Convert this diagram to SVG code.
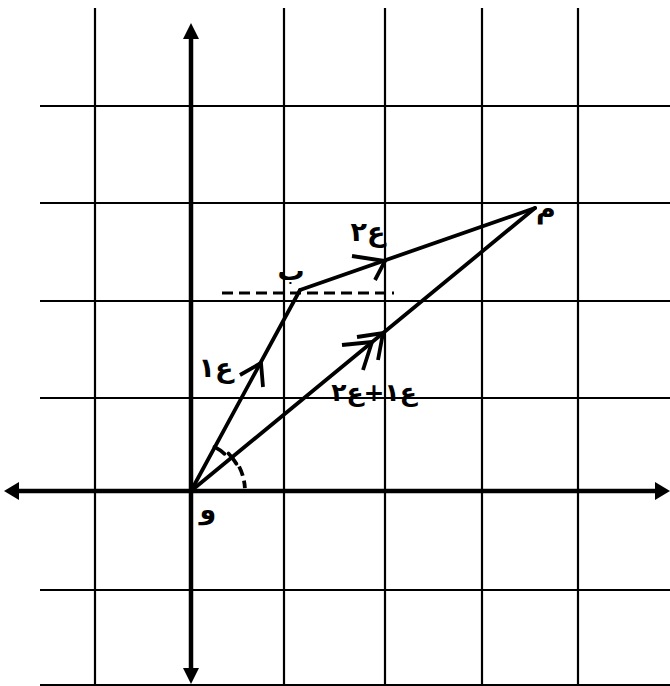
<svg xmlns="http://www.w3.org/2000/svg" width="670" height="686" viewBox="0 0 670 686">
<style>
.grid{stroke:#000;stroke-width:2.2;fill:none}
.axis{stroke:#000;stroke-width:4.5;fill:none}
.vec{stroke:#000;stroke-width:3.8;fill:none;stroke-linecap:round;stroke-linejoin:round}
.chev{stroke:#000;stroke-width:3.8;fill:none;stroke-linecap:butt}
.dash{stroke:#000;stroke-width:3.2;fill:none;stroke-dasharray:11 6}
.lbl{font-family:"DejaVu Sans",sans-serif;font-weight:bold;font-size:27px;fill:#000;text-anchor:middle}
</style>
<rect width="670" height="686" fill="#fff"/>
<g id="grid">
<line class="grid" x1="95" y1="8" x2="95" y2="686"/>
<line class="grid" x1="284" y1="8" x2="284" y2="686"/>
<line class="grid" x1="385" y1="8" x2="385" y2="686"/>
<line class="grid" x1="482" y1="8" x2="482" y2="686"/>
<line class="grid" x1="578" y1="8" x2="578" y2="686"/>
<line class="grid" x1="40" y1="106" x2="670" y2="106"/>
<line class="grid" x1="40" y1="203" x2="670" y2="203"/>
<line class="grid" x1="40" y1="301" x2="670" y2="301"/>
<line class="grid" x1="40" y1="398" x2="670" y2="398"/>
<line class="grid" x1="40" y1="590" x2="670" y2="590"/>
<line class="grid" x1="40" y1="685" x2="670" y2="685"/>
</g>
<g id="axes">
<line class="axis" x1="18" y1="491" x2="656" y2="491"/>
<polygon points="4,491 19,482 19,500" fill="#000"/>
<polygon points="670,491 655,482 655,500" fill="#000"/>
<line class="axis" x1="191" y1="38" x2="191" y2="669"/>
<polygon points="191,23 183,39 199,39" fill="#000"/>
<polygon points="191,684 183,668 199,668" fill="#000"/>
</g>
<g id="connectors">
<line class="vec" x1="191" y1="491" x2="300" y2="290"/>
<line class="vec" x1="300" y1="290" x2="535" y2="208"/>
<line class="vec" x1="191" y1="491" x2="535" y2="208"/>
<polyline class="chev" points="240,375 261,363 263,387"/>
<polyline class="chev" points="352,256 385,261 375,280"/>
<polyline class="chev" points="342,345 372,342 363,370"/>
<polyline class="chev" points="357,337 383,333 378,360"/>
<line class="dash" x1="222" y1="293" x2="394" y2="293"/>
<path class="vec" d="M214.5,446.9 A50,50 0 0 1 224.5,453.8"/>
<path class="vec" d="M228.5,453.5 A53,53 0 0 1 236.4,463.7"/>
<path d="M239.1,466.5 A54,54 0 0 1 244.9,488.2" fill="none" stroke="#000" stroke-width="3.8" stroke-dasharray="10 5"/>
</g>
<g id="node-O"><text class="lbl" x="208" y="519" direction="rtl">و</text></g>
<g id="node-A"><text class="lbl" x="546" y="218" direction="rtl">م</text></g>
<g id="node-B"><text class="lbl" x="291" y="280" direction="rtl">ب</text></g>
<g id="label-v1"><text class="lbl" x="216" y="377" direction="rtl">ع١</text></g>
<g id="label-v2"><text class="lbl" x="368" y="241" direction="rtl">ع٢</text></g>
<g id="label-sum"><text class="lbl" x="374" y="401" direction="rtl" style="font-size:25px">ع١+ع٢</text></g>
</svg>
